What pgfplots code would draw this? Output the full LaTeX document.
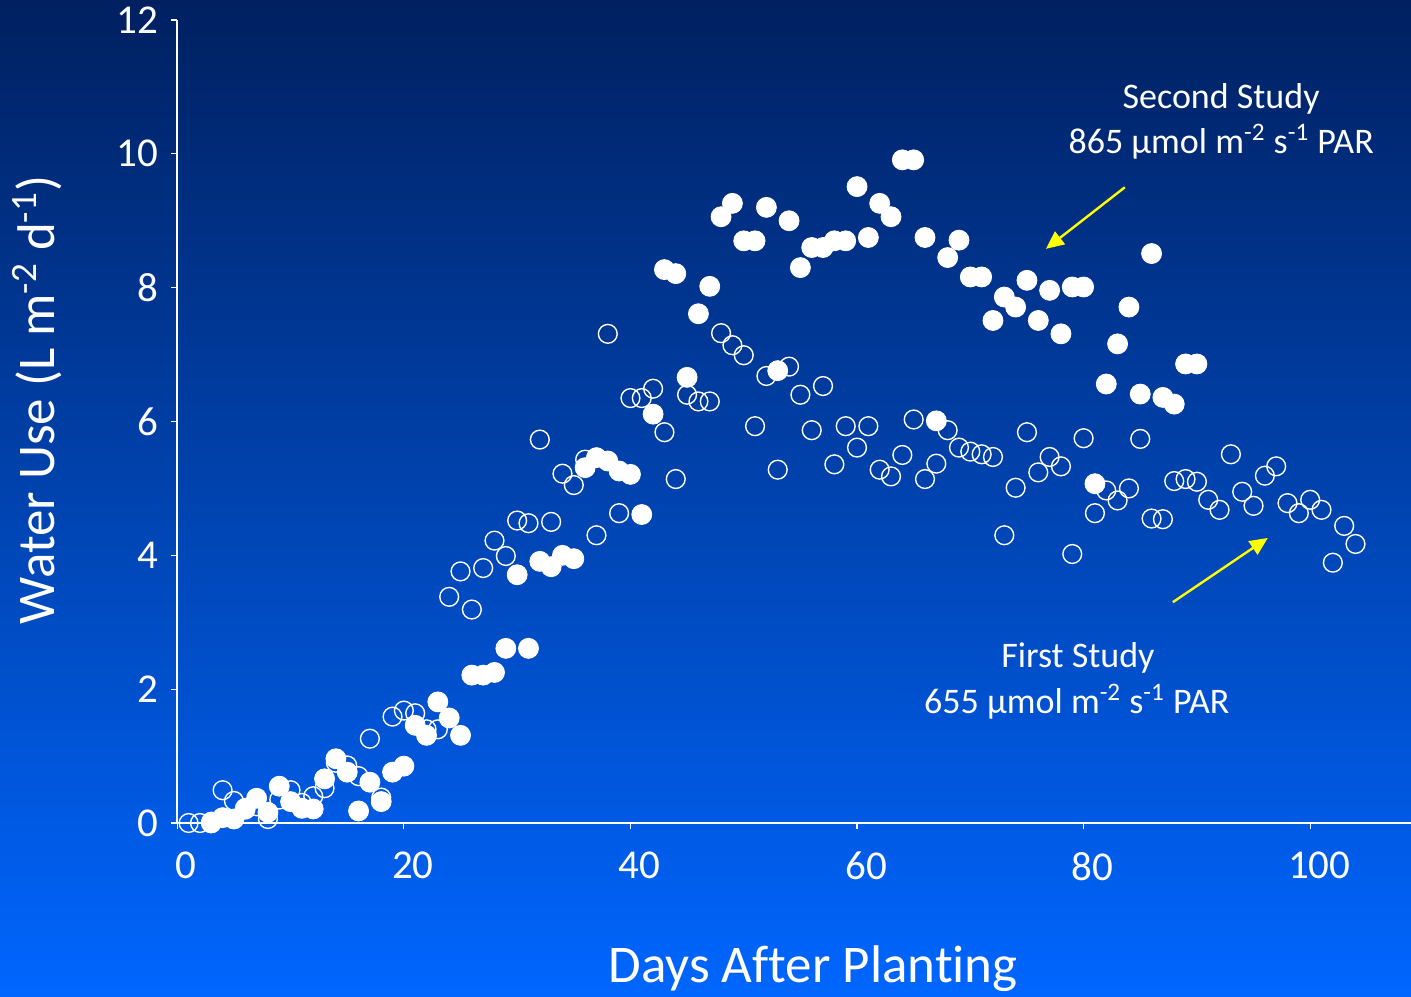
\documentclass[border=0pt]{standalone}
\usepackage{pgfplots}
\pgfplotsset{compat=1.18}
\usepackage{pgfplotstable}
\usepackage{fontspec}
\setmainfont{Carlito}[Ligatures=NoCommon]
\usetikzlibrary{arrows.meta}

\definecolor{bgtop}{RGB}{0,32,96}
\definecolor{bgbot}{RGB}{0,102,255}
\definecolor{arrowyellow}{RGB}{255,255,0}

\pgfplotstableread{
day wu
1 0.0
2 0.0
3 0.02
4 0.49
5 0.33
6 0.2
7 0.25
8 0.06
9 0.35
10 0.49
11 0.3
12 0.4
13 0.52
14 0.9
15 0.86
16 0.7
17 1.26
18 0.38
19 1.59
20 1.68
21 1.64
22 1.4
23 1.40
24 3.38
25 3.76
26 3.19
27 3.81
28 4.22
29 3.99
30 4.52
31 4.48
32 5.73
33 4.50
34 5.22
35 5.05
36 5.43
37 4.30
38 7.31
39 4.63
40 6.35
41 6.35
42 6.49
43 5.84
44 5.14
45 6.40
46 6.30
47 6.30
48 7.32
49 7.14
50 6.99
51 5.93
52 6.68
53 5.28
54 6.82
55 6.40
56 5.87
57 6.53
58 5.36
59 5.93
60 5.61
61 5.93
62 5.28
63 5.18
64 5.50
65 6.03
66 5.14
67 5.37
68 5.87
69 5.61
70 5.55
71 5.51
72 5.47
73 4.30
74 5.01
75 5.84
76 5.24
77 5.47
78 5.33
79 4.02
80 5.75
81 4.63
82 4.97
83 4.82
84 5.00
85 5.74
86 4.55
87 4.54
88 5.11
89 5.14
90 5.10
91 4.83
92 4.68
93 5.51
94 4.95
95 4.74
96 5.19
97 5.33
98 4.78
99 4.63
100 4.83
101 4.68
102 3.89
103 4.44
104 4.17
}\firststudy

\pgfplotstableread{
day wu
3 0.00
4 0.08
5 0.06
6 0.22
7 0.37
8 0.16
9 0.55
10 0.32
11 0.22
12 0.21
13 0.66
14 0.96
15 0.76
16 0.18
17 0.61
18 0.32
19 0.76
20 0.85
21 1.46
22 1.31
23 1.81
24 1.57
25 1.31
26 2.21
27 2.21
28 2.25
29 2.61
30 3.71
31 2.61
32 3.91
33 3.83
34 4.00
35 3.95
36 5.31
37 5.46
38 5.41
39 5.26
40 5.21
41 4.61
42 6.11
43 8.27
44 8.21
45 6.66
46 7.61
47 8.02
48 9.06
49 9.26
50 8.70
51 8.70
52 9.20
53 6.76
54 9.00
55 8.30
56 8.60
57 8.60
58 8.70
59 8.70
60 9.51
61 8.75
62 9.26
63 9.06
64 9.91
65 9.91
66 8.75
67 6.01
68 8.45
69 8.71
70 8.16
71 8.16
72 7.51
73 7.86
74 7.71
75 8.11
76 7.51
77 7.96
78 7.31
79 8.01
80 8.01
81 5.07
82 6.56
83 7.16
84 7.71
85 6.41
86 8.51
87 6.36
88 6.26
89 6.86
90 6.86
}\secondstudy

\begin{document}
\begin{tikzpicture}
\shade[top color=bgtop, bottom color=bgbot] (-88.65pt,-86.5pt) rectangle (616.85pt,411.5pt);
\useasboundingbox (-88.65pt,-86.5pt) rectangle (616.85pt,411.5pt);
\begin{axis}[
  scale only axis, width=616.85pt, height=401.5pt,
  xmin=0, xmax=108.9, ymin=0, ymax=12,
  axis lines*=left,
  axis line style={white, line width=0.9pt},
  tick style={white, line width=0.6pt},
  tick align=outside, major tick length=3pt,
  xtick={0,20,...,100}, ytick={0,2,...,12},
  ticklabel style={font=\fontsize{20.5}{24}\selectfont, text=white},
  xticklabel style={yshift=-8pt, xshift=4.5pt},
  yticklabel style={xshift=-3pt},
  /pgf/number format/assume math mode=true,
  clip=false,
]
\addplot[only marks, mark=o, mark size=4.7pt, mark options={draw=white, line width=0.7pt}] table[x=day, y=wu] {\firststudy};
\addplot[only marks, mark=*, mark size=5pt, mark options={draw=white, fill=white}] table[x=day, y=wu] {\secondstudy};

\draw[arrowyellow, line width=1.2pt, -{Triangle[length=9pt, width=8pt]}] (axis cs:83.64,9.50) -- (axis cs:76.67,8.58);
\draw[arrowyellow, line width=1.2pt, -{Triangle[length=9pt, width=8pt]}] (axis cs:87.88,3.30) -- (axis cs:96.26,4.26);

\node[text=white, font=\fontsize{18}{21}\selectfont, anchor=base] at (axis cs:92.14,10.68) {Second Study};
\node[text=white, font=\fontsize{18}{21}\selectfont, anchor=base] at (axis cs:92.14,10.01) {865 μmol m\textsuperscript{-2} s\textsuperscript{-1} PAR};
\node[text=white, font=\fontsize{18}{21}\selectfont, anchor=base] at (axis cs:79.5,2.32) {First Study};
\node[text=white, font=\fontsize{18}{21}\selectfont, anchor=base] at (axis cs:79.4,1.64) {655 μmol m\textsuperscript{-2} s\textsuperscript{-1} PAR};
\end{axis}
\node[text=white, font=\fontsize{26.5}{31}\selectfont, anchor=base] at (317.9pt,-79.5pt) {Days After Planting};
\node[text=white, font=\fontsize{26.5}{31}\selectfont, rotate=90] at (-70.15pt,211.5pt) {Water Use (L m\textsuperscript{-2} d\textsuperscript{-1})};
\end{tikzpicture}
\end{document}
